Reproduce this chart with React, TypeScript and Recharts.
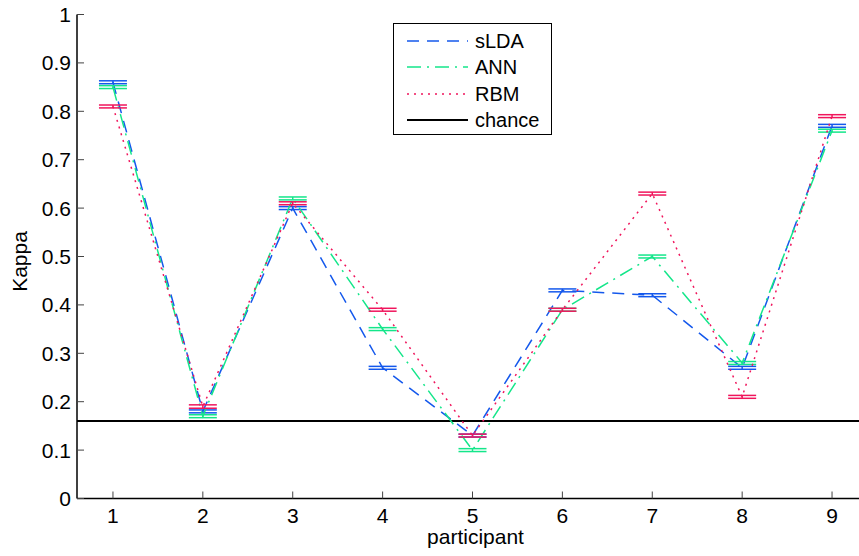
import React from 'react';
import { LineChart, Line, XAxis, YAxis, ErrorBar, ReferenceLine, Label } from 'recharts';

const participants = [1, 2, 3, 4, 5, 6, 7, 8, 9];
const sLDA = [0.86, 0.18, 0.6, 0.27, 0.13, 0.43, 0.42, 0.27, 0.77];
const ANN = [0.85, 0.17, 0.62, 0.35, 0.1, 0.39, 0.5, 0.28, 0.76];
const RBM = [0.81, 0.19, 0.61, 0.39, 0.13, 0.39, 0.63, 0.21, 0.79];
const sLDAErr = [0.003, 0.003, 0.003, 0.003, 0.003, 0.003, 0.003, 0.003, 0.003];
const ANNErr = [0.003, 0.003, 0.003, 0.003, 0.003, 0.003, 0.003, 0.003, 0.003];
const RBMErr = [0.003, 0.0035, 0.003, 0.003, 0.003, 0.003, 0.003, 0.003, 0.003];
const chance = 0.16;
const xTicks = [1, 2, 3, 4, 5, 6, 7, 8, 9];
const yTicks = [0, 0.1, 0.2, 0.3, 0.4, 0.5, 0.6, 0.7, 0.8, 0.9, 1];

const series = [
  { key: 'sLDA', err: 'sLDAErr', name: 'sLDA', color: '#1458ec', dash: '12 8' },
  { key: 'ANN', err: 'ANNErr', name: 'ANN', color: '#14e68a', dash: '14 6 2 6' },
  { key: 'RBM', err: 'RBMErr', name: 'RBM', color: '#f0155c', dash: '2 5' },
];
const legendItems = [
  ...series.map((s) => ({ name: s.name, color: s.color, dash: s.dash })),
  { name: 'chance', color: '#000', dash: undefined as string | undefined },
];

const data = participants.map((p, i) => ({
  p,
  sLDA: sLDA[i],
  ANN: ANN[i],
  RBM: RBM[i],
  sLDAErr: sLDAErr[i],
  ANNErr: ANNErr[i],
  RBMErr: RBMErr[i],
}));

const FONT = '"Liberation Sans", Arial, Helvetica, sans-serif';

export default function App() {
  return (
    <div
      style={{
        position: 'absolute',
        left: 0,
        top: 0,
        width: 859,
        height: 556,
        overflow: 'hidden',
        background: '#fff',
        fontFamily: FONT,
      }}
    >
      <LineChart
        width={878}
        height={556}
        data={data}
        margin={{ top: 14.5, right: 10, bottom: 0, left: 0 }}
      >
        <XAxis
          dataKey="p"
          type="number"
          domain={[0.6, 9.4]}
          ticks={xTicks}
          height={57.5}
          tickSize={-7}
          tickMargin={16.5}
          axisLine={{ stroke: '#000', strokeWidth: 1.5 }}
          tickLine={{ stroke: '#444', strokeWidth: 1 }}
          tick={{ fill: '#000', fontSize: 21, fontFamily: FONT }}
          interval={0}
        >
          <Label
            content={({ viewBox }: any) => (
              <text
                x={viewBox.x + viewBox.width / 2 + 3}
                y={544}
                textAnchor="middle"
                fontSize={21}
                fontFamily={FONT}
                fill="#000"
              >
                participant
              </text>
            )}
          />
        </XAxis>
        <XAxis
          xAxisId="top"
          orientation="top"
          dataKey="p"
          type="number"
          domain={[0.6, 9.4]}
          ticks={xTicks}
          height={0}
          tickSize={-7}
          tick={false}
          axisLine={{ stroke: '#000', strokeWidth: 1.5 }}
          tickLine={{ stroke: '#444', strokeWidth: 1 }}
        />
        <YAxis
          type="number"
          domain={[0, 1]}
          ticks={yTicks}
          width={77}
          tickSize={-7}
          tickMargin={13}
          axisLine={{ stroke: '#000', strokeWidth: 1.5 }}
          tickLine={{ stroke: '#444', strokeWidth: 1 }}
          tick={{ fill: '#000', fontSize: 21, fontFamily: FONT }}
          interval={0}
        >
          <Label
            content={({ viewBox }: any) => {
              const x = 27;
              const y = viewBox.y + viewBox.height / 2 + 5;
              return (
                <text
                  x={x}
                  y={y}
                  transform={`rotate(-90, ${x}, ${y})`}
                  textAnchor="middle"
                  fontSize={21}
                  fontFamily={FONT}
                  fill="#000"
                >
                  Kappa
                </text>
              );
            }}
          />
        </YAxis>
        <ReferenceLine y={chance} stroke="#000" strokeWidth={2} ifOverflow="extendDomain" />
        {series.map((s) => (
          <Line
            key={s.key}
            dataKey={s.key}
            name={s.name}
            stroke={s.color}
            strokeWidth={1.5}
            strokeDasharray={s.dash}
            dot={false}
            activeDot={false}
            isAnimationActive={false}
          >
            <ErrorBar
              dataKey={s.err}
              direction="y"
              width={14}
              stroke={s.color}
              strokeWidth={1.5}
              isAnimationActive={false}
            />
          </Line>
        ))}
      </LineChart>
      <div
        style={{
          position: 'absolute',
          left: 393,
          top: 23,
          width: 157,
          height: 110,
          border: '1.5px solid #000',
          background: '#fff',
          boxSizing: 'content-box',
        }}
      >
        {legendItems.map((it, i) => (
          <div
            key={it.name}
            style={{
              position: 'absolute',
              left: 0,
              top: 4 + i * 26.3,
              height: 26,
              display: 'flex',
              alignItems: 'center',
            }}
          >
            <svg width={61} height={4} style={{ marginLeft: 13, display: 'block' }}>
              <line
                x1={0}
                y1={2}
                x2={61}
                y2={2}
                stroke={it.color}
                strokeWidth={it.dash ? 1.5 : 2}
                strokeDasharray={it.dash}
              />
            </svg>
            <span style={{ marginLeft: 7, fontSize: 20, color: '#000', lineHeight: '26px' }}>
              {it.name}
            </span>
          </div>
        ))}
      </div>
    </div>
  );
}
